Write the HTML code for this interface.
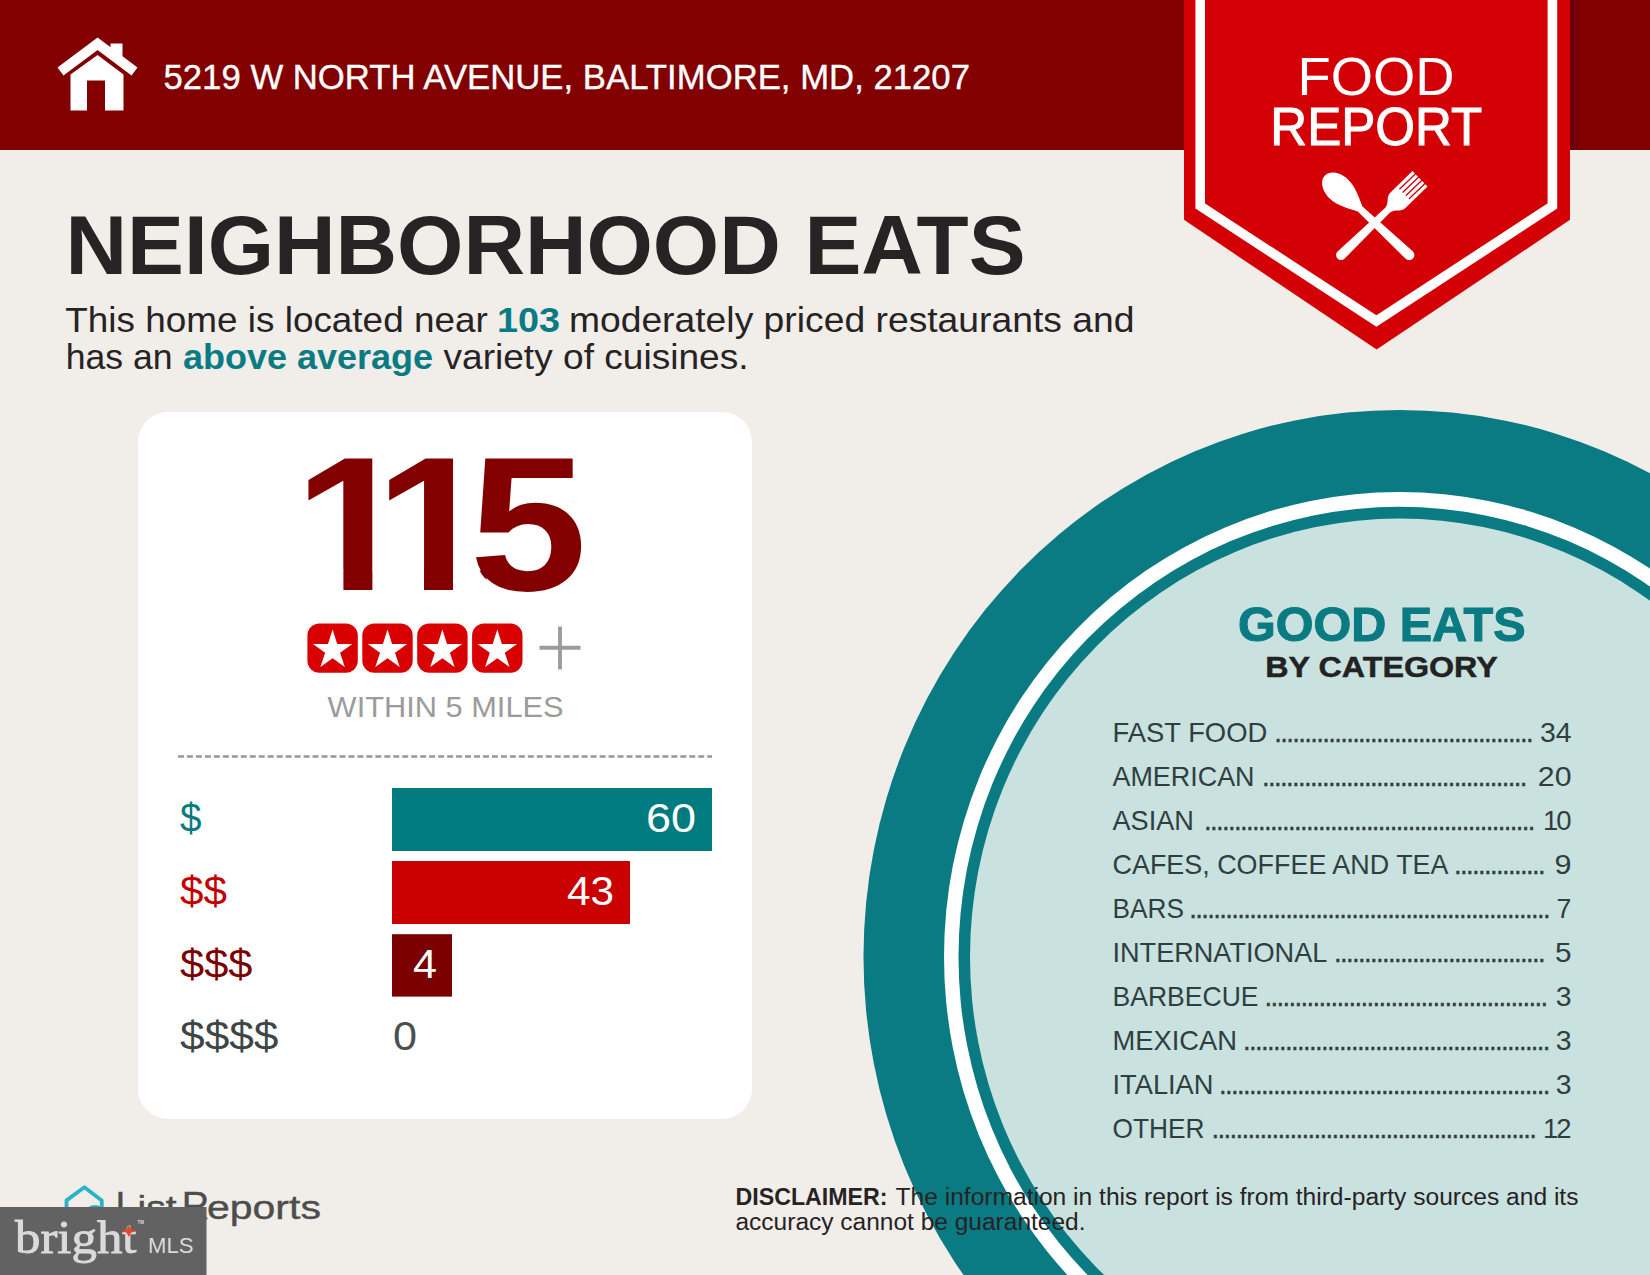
<!DOCTYPE html>
<html lang="en">
<head>
<meta charset="utf-8">
<title>Food Report - Neighborhood Eats</title>
<style>
html,body{margin:0;padding:0;background:#f1ede9;}
body{width:1650px;height:1275px;overflow:hidden;position:relative;font-family:'Liberation Sans',sans-serif;}
svg{position:absolute;left:0;top:0;display:block;}
text{white-space:pre;}
</style>
</head>
<body>
<svg width="1650" height="1275" viewBox="0 0 1650 1275">
<rect width="1650" height="1275" fill="#f1ede9"/>

<g id="plate">
<ellipse cx="1399.5" cy="956.8" rx="536" ry="546.9" fill="#0a7b83"/>
<ellipse cx="1399.5" cy="956.8" rx="455.5" ry="464.8" fill="#ffffff"/>
<ellipse cx="1399.5" cy="956.8" rx="441" ry="450" fill="#0a7b83"/>
<ellipse cx="1399.5" cy="956.8" rx="429.5" ry="438.2" fill="#c9e1df"/>
</g>
<rect x="0" y="0" width="1650" height="150" fill="#820000"/>
<g id="home-icon" fill="#ffffff">
<path d="M97.6 37.5 L137.5 67.5 L131.5 75.5 L97.6 50 L63.5 75.5 L57.5 67.5 Z"/>
<path d="M110.5 43.5 H122.5 V60 L110.5 51 Z"/>
<path d="M97.6 54.9 L123.5 74.4 V110.5 H105 V80.5 H87 V110.5 H70.5 V74.4 Z"/>
</g>
<text x="163.5" y="88.7" font-family="'Liberation Sans', sans-serif" font-size="35.3" font-weight="normal" fill="#ffffff" text-anchor="start" textLength="806.5" lengthAdjust="spacingAndGlyphs" stroke="#ffffff" stroke-width="0.35">5219 W NORTH AVENUE, BALTIMORE, MD, 21207</text>
<defs><linearGradient id="shade" x1="0" y1="0" x2="1" y2="0"><stop offset="0" stop-color="#690008"/><stop offset="1" stop-color="#820000"/></linearGradient></defs>
<g id="badge">
<rect x="1570" y="0" width="13" height="150" fill="url(#shade)"/>
<path d="M1184 0 H1570 V219.8 L1376.6 349.6 L1184 219.8 Z" fill="#d30005"/>
<path d="M1200.2 0 V206 L1376.4 321 L1552.4 206 V0" fill="none" stroke="#ffffff" stroke-width="9.6" stroke-linejoin="miter"/>
</g>
<text x="1376" y="95.4" font-family="'Liberation Sans', sans-serif" font-size="53.8" font-weight="normal" fill="#ffffff" text-anchor="middle" textLength="157" lengthAdjust="spacingAndGlyphs">FOOD</text>
<text x="1376.3" y="144.8" font-family="'Liberation Sans', sans-serif" font-size="53" font-weight="normal" fill="#ffffff" text-anchor="middle" textLength="212" lengthAdjust="spacingAndGlyphs" stroke="#ffffff" stroke-width="1">REPORT</text>
<g id="utensils" fill="#ffffff" transform="translate(1374.7 222.6)">
<g transform="rotate(-46.8)">
<path d="M0 -68.5 C7.6 -68.5 13.2 -59.5 13.2 -49 C13.2 -39 7.6 -29 3.4 -20 L5.2 47.3 A5.2 5.2 0 0 1 -5.2 47.3 L-3.4 -20 C-7.6 -29 -13.2 -39 -13.2 -49 C-13.2 -59.5 -7.6 -68.5 0 -68.5 Z"/>
</g>
<g transform="rotate(46)">
<path d="M-10.8 -63 H-7.5 V-41 H-6.2 V-63 H-2.95 V-41 H-1.65 V-63 H1.65 V-41 H2.95 V-63 H6.2 V-41 H7.5 V-63 H10.8 V-33 C10.8 -25 4.2 -25 3.4 -18 L5 46.8 A5 5 0 0 1 -5 46.8 L-3.4 -18 C-4.2 -25 -10.8 -25 -10.8 -33 Z"/>
</g>
</g>
<text x="65.5" y="274.4" font-family="'Liberation Sans', sans-serif" font-size="83.2" font-weight="bold" fill="#272324" text-anchor="start" textLength="960" lengthAdjust="spacingAndGlyphs">NEIGHBORHOOD EATS</text>
<text x="65.3" y="332.4" font-family="'Liberation Sans', sans-serif" font-size="35" font-weight="normal" fill="#272324" text-anchor="start" textLength="432.7" lengthAdjust="spacingAndGlyphs">This home is located near </text>
<text x="496.9" y="332.4" font-family="'Liberation Sans', sans-serif" font-size="35" font-weight="bold" fill="#0a7b83" text-anchor="start" textLength="63" lengthAdjust="spacingAndGlyphs">103</text>
<text x="568.9" y="332.4" font-family="'Liberation Sans', sans-serif" font-size="35" font-weight="normal" fill="#272324" text-anchor="start" textLength="565.6" lengthAdjust="spacingAndGlyphs">moderately priced restaurants and</text>
<text x="65.8" y="369.2" font-family="'Liberation Sans', sans-serif" font-size="35" font-weight="normal" fill="#272324" text-anchor="start" textLength="116.7" lengthAdjust="spacingAndGlyphs">has an </text>
<text x="183" y="369.2" font-family="'Liberation Sans', sans-serif" font-size="35" font-weight="bold" fill="#0a7b83" text-anchor="start" textLength="250" lengthAdjust="spacingAndGlyphs">above average</text>
<text x="443.5" y="369.2" font-family="'Liberation Sans', sans-serif" font-size="35" font-weight="normal" fill="#272324" text-anchor="start" textLength="305" lengthAdjust="spacingAndGlyphs">variety of cuisines.</text>
<rect x="138" y="412" width="614" height="707" rx="30" ry="30" fill="#ffffff"/>
<clipPath id="nofoot"><path d="M0 400 H800 V594 H527.2 V593 Q504.6 593 491.2 583.6 Q483.3 578.2 479 569.4 H453 V594 H424 V569.4 H372.4 V594 H343.4 V569.4 H0 Z"/></clipPath>
<g clip-path="url(#nofoot)"><text transform="scale(1.1 1)" x="267.39 340.66 426.82" y="590" font-family="'Liberation Sans', sans-serif" font-size="192" font-weight="bold" fill="#820000">115</text></g>
<g id="stars">
<rect x="307.4" y="623.4" width="50.4" height="49.4" rx="12" ry="12" fill="#d80000"/>
<polygon points="332.6,629.6 337.2,643.9 352.3,643.9 340.1,652.7 344.8,667.0 332.6,658.2 320.4,667.0 325.1,652.7 312.9,643.9 328.0,643.9" fill="#ffffff"/>
<rect x="362.3" y="623.4" width="50.4" height="49.4" rx="12" ry="12" fill="#d80000"/>
<polygon points="387.5,629.6 392.1,643.9 407.2,643.9 395.0,652.7 399.7,667.0 387.5,658.2 375.3,667.0 380.0,652.7 367.8,643.9 382.9,643.9" fill="#ffffff"/>
<rect x="417.2" y="623.4" width="50.4" height="49.4" rx="12" ry="12" fill="#d80000"/>
<polygon points="442.4,629.6 447.0,643.9 462.1,643.9 449.9,652.7 454.6,667.0 442.4,658.2 430.2,667.0 434.9,652.7 422.7,643.9 437.8,643.9" fill="#ffffff"/>
<rect x="472.1" y="623.4" width="50.4" height="49.4" rx="12" ry="12" fill="#d80000"/>
<polygon points="497.3,629.6 501.9,643.9 517.0,643.9 504.8,652.7 509.5,667.0 497.3,658.2 485.1,667.0 489.8,652.7 477.6,643.9 492.7,643.9" fill="#ffffff"/>
<path d="M539.5 647.7 H580.5 M560 626.5 V669.5" stroke="#9c9c9c" stroke-width="3.9" fill="none"/>
</g>
<text x="445.6" y="716.5" font-family="'Liberation Sans', sans-serif" font-size="29.6" font-weight="normal" fill="#9b9b9b" text-anchor="middle" textLength="236" lengthAdjust="spacingAndGlyphs">WITHIN 5 MILES</text>
<path d="M178 756.5 H712" stroke="#979797" stroke-width="2.6" stroke-dasharray="6 2.97" fill="none"/>
<rect x="392" y="788" width="320" height="63" fill="#027b80"/>
<rect x="392" y="861" width="238" height="63" fill="#cb0000"/>
<rect x="392" y="934.2" width="60" height="62.4" fill="#7b0000"/>
<text x="180" y="831.6" font-family="'Liberation Sans', sans-serif" font-size="40" font-weight="normal" fill="#077b80" text-anchor="start" textLength="21.5" lengthAdjust="spacingAndGlyphs">$</text>
<text x="180" y="904.6" font-family="'Liberation Sans', sans-serif" font-size="40" font-weight="normal" fill="#c40000" text-anchor="start" textLength="47" lengthAdjust="spacingAndGlyphs">$$</text>
<text x="180" y="977.6" font-family="'Liberation Sans', sans-serif" font-size="40" font-weight="normal" fill="#7b0000" text-anchor="start" textLength="72.5" lengthAdjust="spacingAndGlyphs">$$$</text>
<text x="180" y="1050.4" font-family="'Liberation Sans', sans-serif" font-size="40" font-weight="normal" fill="#3d4546" text-anchor="start" textLength="98.5" lengthAdjust="spacingAndGlyphs">$$$$</text>
<text x="696" y="832" font-family="'Liberation Sans', sans-serif" font-size="40" font-weight="normal" fill="#ffffff" text-anchor="end" textLength="50" lengthAdjust="spacingAndGlyphs">60</text>
<text x="614" y="905" font-family="'Liberation Sans', sans-serif" font-size="40" font-weight="normal" fill="#ffffff" text-anchor="end" textLength="47" lengthAdjust="spacingAndGlyphs">43</text>
<text x="437" y="978" font-family="'Liberation Sans', sans-serif" font-size="40" font-weight="normal" fill="#ffffff" text-anchor="end" textLength="24" lengthAdjust="spacingAndGlyphs">4</text>
<text x="393" y="1050" font-family="'Liberation Sans', sans-serif" font-size="40" font-weight="normal" fill="#4a4f50" text-anchor="start" textLength="24" lengthAdjust="spacingAndGlyphs">0</text>
<text x="1381.8" y="641.3" font-family="'Liberation Sans', sans-serif" font-size="47.5" font-weight="bold" fill="#0a7b83" text-anchor="middle" textLength="287.5" lengthAdjust="spacingAndGlyphs" stroke="#0a7b83" stroke-width="1.1">GOOD EATS</text>
<text x="1381.5" y="677.4" font-family="'Liberation Sans', sans-serif" font-size="30.3" font-weight="bold" fill="#222222" text-anchor="middle" textLength="232.5" lengthAdjust="spacingAndGlyphs" stroke="#222222" stroke-width="0.45">BY CATEGORY</text>
<g id="categories">
<text x="1112.5" y="741.5" font-family="'Liberation Sans', sans-serif" font-size="27.5" font-weight="normal" fill="#2f3f40" text-anchor="start" textLength="154.8" lengthAdjust="spacingAndGlyphs">FAST FOOD</text>
<text x="1274.2" y="741.5" font-family="'Liberation Sans', sans-serif" font-size="27.5" font-weight="normal" fill="#2f3f40" text-anchor="start" letter-spacing="-1.645" stroke="#2f3f40" stroke-width="0.35">...........................................</text>
<text x="1571.5" y="741.5" font-family="'Liberation Sans', sans-serif" font-size="27.5" font-weight="normal" fill="#2f3f40" text-anchor="end" textLength="31.6" lengthAdjust="spacingAndGlyphs">34</text>
<text x="1112.5" y="785.5" font-family="'Liberation Sans', sans-serif" font-size="27.5" font-weight="normal" fill="#2f3f40" text-anchor="start" textLength="142.0" lengthAdjust="spacingAndGlyphs">AMERICAN</text>
<text x="1262.0" y="785.5" font-family="'Liberation Sans', sans-serif" font-size="27.5" font-weight="normal" fill="#2f3f40" text-anchor="start" letter-spacing="-1.645" stroke="#2f3f40" stroke-width="0.35">............................................</text>
<text x="1571.5" y="785.5" font-family="'Liberation Sans', sans-serif" font-size="27.5" font-weight="normal" fill="#2f3f40" text-anchor="end" textLength="33.7" lengthAdjust="spacingAndGlyphs">20</text>
<text x="1112.5" y="829.5" font-family="'Liberation Sans', sans-serif" font-size="27.5" font-weight="normal" fill="#2f3f40" text-anchor="start" textLength="81.4" lengthAdjust="spacingAndGlyphs">ASIAN</text>
<text x="1204.0" y="829.5" font-family="'Liberation Sans', sans-serif" font-size="27.5" font-weight="normal" fill="#2f3f40" text-anchor="start" letter-spacing="-1.645" stroke="#2f3f40" stroke-width="0.35">.......................................................</text>
<text x="1571.5" y="829.5" font-family="'Liberation Sans', sans-serif" font-size="27.5" font-weight="normal" fill="#2f3f40" text-anchor="end" textLength="28.5" lengthAdjust="spacing">10</text>
<text x="1112.5" y="873.5" font-family="'Liberation Sans', sans-serif" font-size="27.5" font-weight="normal" fill="#2f3f40" text-anchor="start" textLength="336.0" lengthAdjust="spacingAndGlyphs">CAFES, COFFEE AND TEA</text>
<text x="1454.0" y="873.5" font-family="'Liberation Sans', sans-serif" font-size="27.5" font-weight="normal" fill="#2f3f40" text-anchor="start" letter-spacing="-1.645" stroke="#2f3f40" stroke-width="0.35">...............</text>
<text x="1571.5" y="873.5" font-family="'Liberation Sans', sans-serif" font-size="27.5" font-weight="normal" fill="#2f3f40" text-anchor="end" textLength="17.0" lengthAdjust="spacingAndGlyphs">9</text>
<text x="1112.5" y="917.5" font-family="'Liberation Sans', sans-serif" font-size="27.5" font-weight="normal" fill="#2f3f40" text-anchor="start" textLength="71.4" lengthAdjust="spacingAndGlyphs">BARS</text>
<text x="1189.3" y="917.5" font-family="'Liberation Sans', sans-serif" font-size="27.5" font-weight="normal" fill="#2f3f40" text-anchor="start" letter-spacing="-1.645" stroke="#2f3f40" stroke-width="0.35">............................................................</text>
<text x="1571.5" y="917.5" font-family="'Liberation Sans', sans-serif" font-size="27.5" font-weight="normal" fill="#2f3f40" text-anchor="end" textLength="14.9" lengthAdjust="spacingAndGlyphs">7</text>
<text x="1112.5" y="961.5" font-family="'Liberation Sans', sans-serif" font-size="27.5" font-weight="normal" fill="#2f3f40" text-anchor="start" textLength="214.8" lengthAdjust="spacingAndGlyphs">INTERNATIONAL</text>
<text x="1334.1" y="961.5" font-family="'Liberation Sans', sans-serif" font-size="27.5" font-weight="normal" fill="#2f3f40" text-anchor="start" letter-spacing="-1.645" stroke="#2f3f40" stroke-width="0.35">...................................</text>
<text x="1571.5" y="961.5" font-family="'Liberation Sans', sans-serif" font-size="27.5" font-weight="normal" fill="#2f3f40" text-anchor="end" textLength="16.5" lengthAdjust="spacingAndGlyphs">5</text>
<text x="1112.5" y="1005.5" font-family="'Liberation Sans', sans-serif" font-size="27.5" font-weight="normal" fill="#2f3f40" text-anchor="start" textLength="146.0" lengthAdjust="spacingAndGlyphs">BARBECUE</text>
<text x="1264.6" y="1005.5" font-family="'Liberation Sans', sans-serif" font-size="27.5" font-weight="normal" fill="#2f3f40" text-anchor="start" letter-spacing="-1.645" stroke="#2f3f40" stroke-width="0.35">...............................................</text>
<text x="1571.5" y="1005.5" font-family="'Liberation Sans', sans-serif" font-size="27.5" font-weight="normal" fill="#2f3f40" text-anchor="end" textLength="15.8" lengthAdjust="spacingAndGlyphs">3</text>
<text x="1112.5" y="1049.5" font-family="'Liberation Sans', sans-serif" font-size="27.5" font-weight="normal" fill="#2f3f40" text-anchor="start" textLength="124.5" lengthAdjust="spacingAndGlyphs">MEXICAN</text>
<text x="1243.1" y="1049.5" font-family="'Liberation Sans', sans-serif" font-size="27.5" font-weight="normal" fill="#2f3f40" text-anchor="start" letter-spacing="-1.645" stroke="#2f3f40" stroke-width="0.35">...................................................</text>
<text x="1571.5" y="1049.5" font-family="'Liberation Sans', sans-serif" font-size="27.5" font-weight="normal" fill="#2f3f40" text-anchor="end" textLength="15.8" lengthAdjust="spacingAndGlyphs">3</text>
<text x="1112.5" y="1093.5" font-family="'Liberation Sans', sans-serif" font-size="27.5" font-weight="normal" fill="#2f3f40" text-anchor="start" textLength="101.0" lengthAdjust="spacingAndGlyphs">ITALIAN</text>
<text x="1219.0" y="1093.5" font-family="'Liberation Sans', sans-serif" font-size="27.5" font-weight="normal" fill="#2f3f40" text-anchor="start" letter-spacing="-1.645" stroke="#2f3f40" stroke-width="0.35">.......................................................</text>
<text x="1571.5" y="1093.5" font-family="'Liberation Sans', sans-serif" font-size="27.5" font-weight="normal" fill="#2f3f40" text-anchor="end" textLength="15.8" lengthAdjust="spacingAndGlyphs">3</text>
<text x="1112.5" y="1137.5" font-family="'Liberation Sans', sans-serif" font-size="27.5" font-weight="normal" fill="#2f3f40" text-anchor="start" textLength="92.0" lengthAdjust="spacingAndGlyphs">OTHER</text>
<text x="1211.6" y="1137.5" font-family="'Liberation Sans', sans-serif" font-size="27.5" font-weight="normal" fill="#2f3f40" text-anchor="start" letter-spacing="-1.645" stroke="#2f3f40" stroke-width="0.35">......................................................</text>
<text x="1571.5" y="1137.5" font-family="'Liberation Sans', sans-serif" font-size="27.5" font-weight="normal" fill="#2f3f40" text-anchor="end" textLength="28.5" lengthAdjust="spacing">12</text>
</g>
<g id="listreports">
<path d="M84.4 1187.3 L101.8 1200.4 V1228 H66.5 V1200.4 Z" fill="none" stroke="#2ab5c6" stroke-width="3.8" stroke-linejoin="round"/>
<circle cx="95" cy="1216" r="11" fill="#2ab5c6"/>
<text y="1218.5" font-family="'Liberation Sans', sans-serif" font-size="38" fill="#4d4d4d" stroke="#4d4d4d" stroke-width="0.4"><tspan x="115.6">L</tspan><tspan x="137.5" font-size="33.5" textLength="39" lengthAdjust="spacingAndGlyphs">ist</tspan><tspan x="181.8">R</tspan><tspan x="206.9" font-size="33.5" textLength="114" lengthAdjust="spacingAndGlyphs">eports</tspan></text>
</g>
<text x="735.5" y="1205" font-family="'Liberation Sans', sans-serif" font-size="23.5" font-weight="bold" fill="#272324" text-anchor="start" textLength="152" lengthAdjust="spacingAndGlyphs">DISCLAIMER:</text>
<text x="895.5" y="1205" font-family="'Liberation Sans', sans-serif" font-size="23.5" font-weight="normal" fill="#272324" text-anchor="start" textLength="683" lengthAdjust="spacingAndGlyphs">The information in this report is from third-party sources and its</text>
<text x="735.5" y="1230" font-family="'Liberation Sans', sans-serif" font-size="23.5" font-weight="normal" fill="#272324" text-anchor="start" textLength="350" lengthAdjust="spacingAndGlyphs">accuracy cannot be guaranteed.</text>
<rect x="0" y="1207" width="206.5" height="68" fill="#626262"/>
<text x="15" y="1252.5" font-family="'Liberation Serif', serif" font-size="46" font-weight="normal" fill="#dadada" text-anchor="start" textLength="121.5" lengthAdjust="spacingAndGlyphs" stroke="#dadada" stroke-width="0.9">bright</text>
<path d="M128.8 1225 L131 1229.3 L136.3 1231 L131 1232.7 L128.8 1237 L126.6 1232.7 L121.3 1231 L126.6 1229.3 Z" fill="#e2492c"/>
<text x="137.5" y="1223.5" font-family="'Liberation Sans', sans-serif" font-size="6" font-weight="bold" fill="#dadada" text-anchor="start" textLength="6.5" lengthAdjust="spacingAndGlyphs">TM</text>
<text x="148" y="1252.5" font-family="'Liberation Sans', sans-serif" font-size="22.5" font-weight="normal" fill="#dadada" text-anchor="start" textLength="45.5" lengthAdjust="spacingAndGlyphs">MLS</text>
</svg>
</body>
</html>
